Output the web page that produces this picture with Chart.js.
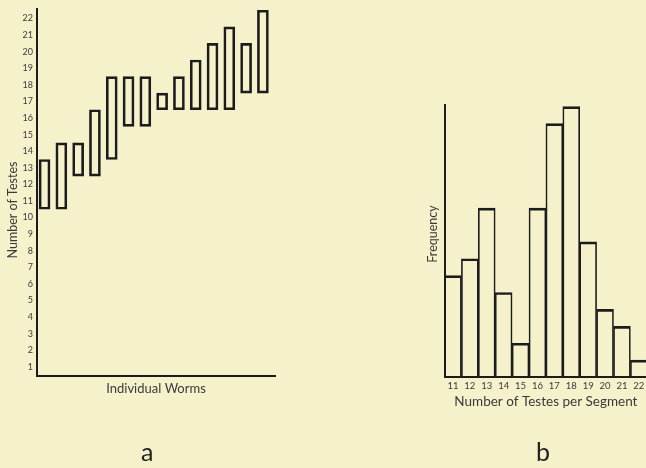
<!DOCTYPE html>
<html>
<head>
<meta charset="utf-8">
<script src="https://cdn.jsdelivr.net/npm/chart.js@4"></script>
<style>
  html, body { margin:0; padding:0; background:#f5f1cb; overflow:hidden; }
  body { width:646px; height:468px; position:relative; }
  canvas { position:absolute; }
  .lbl { position:absolute; font-family: Lato, "Open Sans", sans-serif; font-size:25px; color:#222; }
</style>
</head>
<body>
<canvas id="ca" width="290" height="468" style="left:0;top:0;"></canvas>
<canvas id="cb" width="260" height="468" style="left:400px;top:0;"></canvas>
<div class="lbl" style="left:141px;top:436px;">a</div>
<div class="lbl" style="left:536px;top:436px;">b</div>
<script>
// Panel a: range of testes count per individual worm
const worms = [1,2,3,4,5,6,7,8,9,10,11,12,13,14];
const wormLow  = [10.5,10.5,12.5,12.5,13.5,15.5,15.5,16.5,16.5,16.5,16.5,16.5,17.5,17.5];
const wormHigh = [13.5,14.5,14.5,16.5,18.5,18.5,18.5,17.5,18.5,19.5,20.5,21.5,20.5,22.5];
const yTicksA = [1,2,3,4,5,6,7,8,9,10,11,12,13,14,15,16,17,18,19,20,21,22];

// Panel b: frequency histogram
const testesPerSegment = ['11','12','13','14','15','16','17','18','19','20','21','22'];
const frequency = [6,7,10,5,2,10,15,16,8,4,3,1];

const FONT = 'Lato, "Open Sans", sans-serif';
const TXT = '#3a3a3a';
const LINE = '#1c1c1c';

// draws a rotated y-axis title at a given point of the canvas
const yTitlePlugin = {
  id: 'yTitle',
  afterDraw(chart, args, opts) {
    const ctx = chart.ctx;
    ctx.save();
    ctx.translate(opts.x, opts.y);
    ctx.rotate(-Math.PI / 2);
    ctx.font = opts.size + 'px ' + FONT;
    ctx.fillStyle = TXT;
    ctx.textAlign = 'center';
    ctx.textBaseline = 'middle';
    ctx.fillText(opts.text, 0, 0);
    ctx.restore();
  }
};

new Chart(document.getElementById('ca'), {
  type: 'bar',
  data: {
    datasets: [{
      data: worms.map((w,i) => ({x: w, y: [wormLow[i], wormHigh[i]]})),
      backgroundColor: 'rgba(0,0,0,0)',
      borderColor: LINE,
      borderWidth: 2,
      borderSkipped: false,
      barThickness: 11
    }]
  },
  plugins: [yTitlePlugin],
  options: {
    responsive: false,
    animation: false,
    devicePixelRatio: 1,
    layout: { padding: { left: 0, right: 15, top: 8, bottom: 71 } },
    plugins: {
      legend: { display: false }, tooltip: { enabled: false },
      yTitle: { text: 'Number of Testes', x: 13, y: 210, size: 12.5 }
    },
    scales: {
      x: {
        type: 'linear',
        offset: false,
        min: 0.55, max: 14.72,
        grid: { display: false, drawTicks: false, offset: false },
        border: { display: true, color: LINE, width: 2 },
        ticks: { display: false },
        title: { display: true, text: 'Individual Worms', color: TXT,
                 font: { family: FONT, size: 13 }, padding: { top: 0, bottom: 0 } },
        afterFit: s => { s.height = 21; }
      },
      y: {
        min: 0.45, max: 22.55,
        afterBuildTicks: s => { s.ticks = yTicksA.map(v => ({value: v})); },
        grid: { display: false, drawTicks: false },
        border: { display: true, color: LINE, width: 2 },
        ticks: { color: TXT, font: { family: FONT, size: 9 }, padding: 4, autoSkip: false },
        title: { display: false },
        afterFit: s => { s.width = 37; }
      }
    }
  }
});

new Chart(document.getElementById('cb'), {
  type: 'bar',
  data: {
    labels: testesPerSegment,
    datasets: [{
      data: frequency,
      backgroundColor: 'rgba(0,0,0,0)',
      borderColor: LINE,
      borderWidth: { top: 2, left: 1, right: 1, bottom: 0 },
      borderSkipped: false,
      barPercentage: 1,
      categoryPercentage: 1
    }]
  },
  plugins: [yTitlePlugin],
  options: {
    responsive: false,
    animation: false,
    devicePixelRatio: 1,
    layout: { padding: { left: 0, right: 12.7, top: 105, bottom: 57 } },
    plugins: {
      legend: { display: false }, tooltip: { enabled: false },
      yTitle: { text: 'Frequency', x: 33, y: 234, size: 12.5 }
    },
    scales: {
      x: {
        grid: { display: false, drawTicks: false },
        border: { display: true, color: LINE, width: 2 },
        ticks: { color: TXT, font: { family: FONT, size: 9.5 }, padding: 3, autoSkip: false, maxRotation: 0 },
        title: { display: true, text: 'Number of Testes per Segment', color: TXT,
                 font: { family: FONT, size: 13.5 }, padding: { top: 0, bottom: 1 } },
        afterFit: s => { s.height = 34; }
      },
      y: {
        min: 0, max: 16.1,
        grid: { display: false, drawTicks: false },
        border: { display: true, color: LINE, width: 2 },
        ticks: { display: false },
        title: { display: false },
        afterFit: s => { s.width = 44.5; }
      }
    }
  }
});
</script>
</body>
</html>
